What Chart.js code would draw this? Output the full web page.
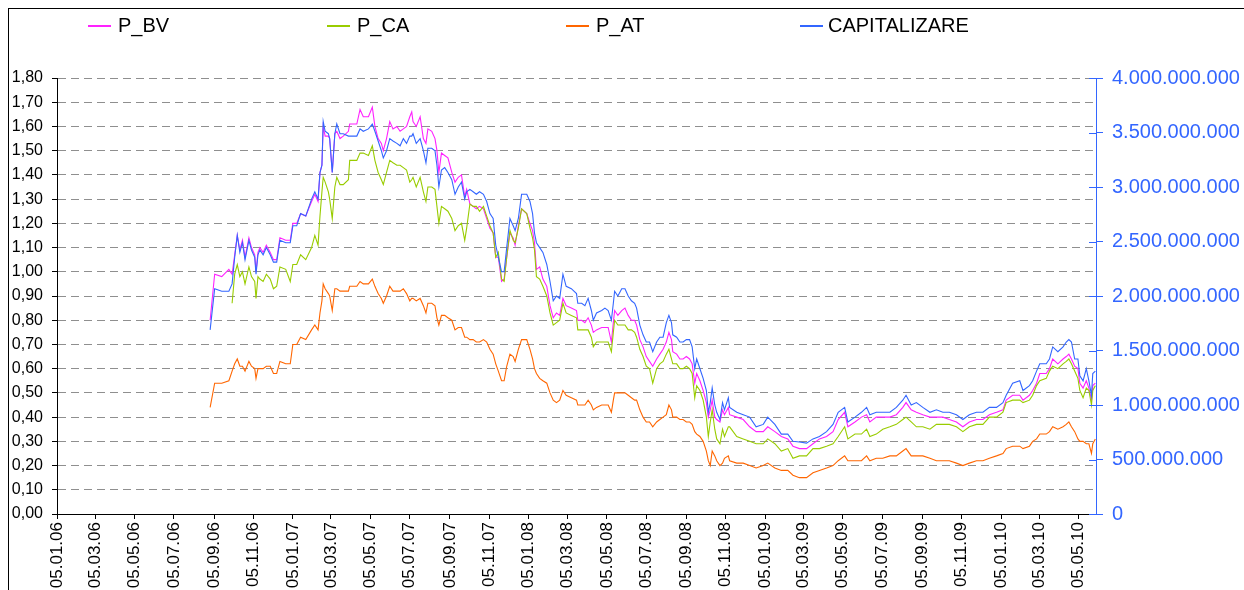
<!DOCTYPE html>
<html>
<head>
<meta charset="utf-8">
<script src="https://cdn.jsdelivr.net/npm/chart.js@4.4.1/dist/chart.umd.min.js"></script>
<style>
  html, body { margin: 0; padding: 0; background: #fff; }
  #wrap { position: relative; width: 1244px; height: 590px; overflow: hidden; }
  #frame { position: absolute; left: 8px; top: 8px; width: 1400px; height: 800px; border: 1px solid #000; }
  #graf { position: absolute; left: 0; top: 0; }
  .leg { position: absolute; top: 15px; font: 20px "Liberation Sans", Arial, sans-serif; line-height: 20px; color: #000; white-space: nowrap; }
  .leg i { position: absolute; top: 10px; width: 23px; height: 2px; }
</style>
</head>
<body>
<div id="wrap">
  <div id="frame"></div>
  <canvas id="graf" width="1244" height="590"></canvas>
  <div id="legenda"></div>
</div>
<script>
// ======= DATE =======
// etichete axa X (zi.luna.an)
const tickLabels = ['05.01.06','05.03.06','05.05.06','05.07.06','05.09.06','05.11.06',
  '05.01.07','05.03.07','05.05.07','05.07.07','05.09.07','05.11.07',
  '05.01.08','05.03.08','05.05.08','05.07.08','05.09.08','05.11.08',
  '05.01.09','05.03.09','05.05.09','05.07.09','05.09.09','05.11.09',
  '05.01.10','05.03.10','05.05.10'];

// zile de la 05.01.06
const days = [
  237,244,255,266,271,275,279,283,287,291,297,301,306,308,311,314,319,324,330,335,
  340,345,354,361,365,371,377,385,394,399,404,407,410,412,415,420,422,426,430,433,
  438,443,451,453,464,
  469,474,482,488,492,497,502,505,510,515,520,526,531,536,541,546,549,551,556,562,
  567,571,574,580,585,588,591,595,600,605,611,616,621,626,631,634,639,644,649,654,
  660,665,670,675,679,683,688,692,696,701,706,709,714,719,727,732,736,739,742,747,752,
  758,763,768,773,778,783,788,796,804,806,812,817,822,827,830,835,843,848,853,858,
  861,863,868,874,879,884,889,894,897,902,907,912,917,922,928,933,938,943,947,951,
  953,959,964,969,974,979,983,987,990,995,1000,1005,1008,1011,1014,1018,1021,1026,1030,1033,1039,
  1041,1052,1062,1072,1082,1093,1100,1111,1121,1131,1139,1149,1160,1170,1180,1191,1201,1209,1219,1224,
  1235,1245,1253,1258,1268,1278,1289,1299,1309,1314,1322,1330,1340,1351,1361,1371,1381,1392,1402,1412,
  1423,1433,1443,1454,1464,1469,1479,1490,1495,1505,1510,1516,1521,1531,1536,1541,1549,1557,1562,1566,
  1570,1575,1580,1583,1588,1593,1597,1601,1603,1607
];

const pBV = [
  0.80,0.99,0.98,1.01,0.99,1.07,1.15,1.09,1.13,1.06,1.14,1.10,1.07,1.00,1.08,1.10,1.08,1.11,1.08,1.05,
  1.05,1.14,1.13,1.13,1.20,1.20,1.24,1.23,1.29,1.32,1.29,1.41,1.44,1.60,1.56,1.56,1.55,1.41,1.57,1.58,
  1.55,1.56,1.58,1.61,1.61,
  1.67,1.64,1.64,1.68,1.60,1.55,1.53,1.50,1.55,1.62,1.59,1.60,1.58,1.59,1.60,1.64,1.66,1.62,1.60,1.64,
  1.55,1.53,1.59,1.58,1.55,1.50,1.41,1.49,1.48,1.47,1.41,1.37,1.39,1.40,1.31,1.34,1.28,1.27,1.26,1.27,
  1.26,1.22,1.18,1.16,1.06,1.06,0.96,0.97,1.06,1.16,1.14,1.11,1.19,1.26,1.24,1.20,1.17,1.12,1.01,1.02,0.97,
  0.94,0.86,0.81,0.83,0.82,0.89,0.86,0.85,0.84,0.80,0.80,0.79,0.81,0.78,0.75,0.76,0.77,0.77,0.77,0.71,
  0.79,0.84,0.82,0.84,0.85,0.82,0.80,0.80,0.78,0.72,0.69,0.65,0.63,0.61,0.64,0.66,0.68,0.71,0.75,0.72,
  0.67,0.66,0.64,0.64,0.65,0.64,0.62,0.54,0.58,0.55,0.51,0.46,0.40,0.43,0.47,0.40,0.39,0.38,0.43,0.41,0.44,
  0.41,0.40,0.39,0.36,0.34,0.34,0.36,0.34,0.32,0.31,0.28,0.27,0.27,0.29,0.31,0.32,0.34,0.39,0.42,0.36,
  0.38,0.40,0.41,0.38,0.40,0.40,0.40,0.41,0.44,0.46,0.43,0.42,0.41,0.40,0.40,0.40,0.39,0.38,0.36,0.38,
  0.39,0.39,0.41,0.42,0.43,0.47,0.49,0.49,0.47,0.49,0.51,0.54,0.58,0.58,0.60,0.64,0.62,0.64,0.65,0.66,
  0.64,0.61,0.60,0.54,0.52,0.55,0.52,0.47,0.53,0.54
];

const pCA = [
  null,null,null,null,0.87,0.99,1.03,0.98,1.00,0.95,1.02,0.98,0.96,0.89,0.98,0.97,0.96,0.99,0.97,0.93,
  0.94,1.02,1.01,0.96,1.03,1.03,1.07,1.05,1.10,1.15,1.11,1.23,1.33,1.39,1.37,1.33,1.30,1.22,1.35,1.39,
  1.36,1.36,1.38,1.46,1.46,
  1.49,1.49,1.48,1.52,1.46,1.41,1.38,1.36,1.41,1.46,1.45,1.44,1.44,1.43,1.42,1.37,1.38,1.39,1.35,1.39,
  1.33,1.29,1.35,1.35,1.34,1.27,1.20,1.27,1.26,1.25,1.22,1.17,1.19,1.20,1.13,1.18,1.28,1.27,1.27,1.25,
  1.27,1.23,1.19,1.16,1.06,1.08,0.97,0.96,1.06,1.17,1.13,1.12,1.18,1.26,1.24,1.18,1.14,1.09,0.98,0.97,0.94,
  0.90,0.83,0.78,0.79,0.80,0.87,0.83,0.82,0.81,0.76,0.76,0.76,0.76,0.73,0.69,0.71,0.71,0.71,0.71,0.67,
  0.75,0.80,0.78,0.78,0.78,0.76,0.76,0.75,0.73,0.68,0.65,0.61,0.60,0.54,0.60,0.62,0.63,0.66,0.68,0.64,
  0.62,0.62,0.60,0.60,0.61,0.60,0.58,0.48,0.53,0.51,0.47,0.40,0.32,0.38,0.43,0.35,0.31,0.29,0.35,0.32,0.36,
  0.36,0.32,0.31,0.30,0.29,0.29,0.31,0.29,0.26,0.27,0.23,0.24,0.24,0.27,0.27,0.28,0.29,0.32,0.36,0.31,
  0.33,0.33,0.35,0.32,0.33,0.35,0.36,0.37,0.39,0.40,0.38,0.36,0.36,0.35,0.37,0.37,0.37,0.36,0.34,0.36,
  0.37,0.37,0.40,0.40,0.42,0.46,0.47,0.47,0.46,0.47,0.49,0.53,0.55,0.56,0.59,0.61,0.60,0.62,0.63,0.64,
  0.62,0.59,0.56,0.51,0.48,0.52,0.51,0.45,0.51,0.53
];

const pAT = [
  0.44,0.54,0.54,0.55,0.59,0.62,0.64,0.61,0.61,0.59,0.63,0.61,0.60,0.56,0.60,0.60,0.60,0.61,0.61,0.58,
  0.58,0.63,0.62,0.62,0.70,0.70,0.73,0.72,0.76,0.78,0.76,0.83,0.88,0.95,0.93,0.91,0.90,0.84,0.93,0.93,
  0.92,0.92,0.92,0.94,0.94,
  0.96,0.95,0.95,0.97,0.94,0.91,0.89,0.87,0.90,0.94,0.92,0.92,0.92,0.93,0.91,0.88,0.89,0.89,0.88,0.89,
  0.86,0.83,0.87,0.87,0.86,0.81,0.78,0.82,0.82,0.81,0.80,0.76,0.77,0.77,0.73,0.73,0.72,0.72,0.71,0.71,
  0.72,0.71,0.68,0.66,0.62,0.59,0.55,0.55,0.61,0.66,0.65,0.63,0.68,0.72,0.72,0.68,0.64,0.60,0.58,0.56,0.55,
  0.54,0.50,0.47,0.46,0.47,0.51,0.49,0.48,0.47,0.45,0.45,0.45,0.47,0.45,0.43,0.44,0.45,0.45,0.45,0.42,
  0.47,0.50,0.50,0.50,0.50,0.49,0.48,0.47,0.47,0.43,0.40,0.38,0.38,0.36,0.38,0.39,0.40,0.41,0.45,0.43,
  0.40,0.40,0.39,0.39,0.38,0.38,0.37,0.34,0.33,0.32,0.30,0.26,0.22,0.20,0.26,0.24,0.22,0.20,0.21,0.23,0.24,
  0.22,0.21,0.21,0.20,0.19,0.20,0.21,0.19,0.18,0.18,0.16,0.15,0.15,0.17,0.18,0.19,0.20,0.22,0.24,0.22,
  0.22,0.22,0.24,0.22,0.23,0.23,0.24,0.24,0.26,0.27,0.24,0.24,0.24,0.23,0.22,0.22,0.22,0.21,0.20,0.21,
  0.22,0.22,0.23,0.24,0.25,0.27,0.28,0.28,0.27,0.28,0.30,0.31,0.33,0.33,0.34,0.36,0.35,0.36,0.37,0.38,
  0.36,0.34,0.31,0.30,0.30,0.29,0.29,0.25,0.29,0.31
];

// capitalizare, milioane lei
const capitalizare = [
  1689,2067,2044,2044,2111,2356,2556,2400,2489,2333,2511,2422,2356,2200,2378,2422,2378,2444,2378,2311,
  2311,2511,2489,2489,2644,2644,2756,2733,2889,2956,2889,3133,3200,3600,3511,3489,3444,3133,3489,3578,
  3489,3489,3467,3467,3467,
  3533,3511,3533,3578,3511,3422,3333,3267,3333,3444,3422,3400,3378,3444,3400,3467,3467,3489,3400,3444,
  3333,3222,3356,3356,3333,3200,3000,3156,3178,3133,3067,2933,3000,3044,2889,2956,2978,2956,2933,2956,
  2933,2867,2756,2711,2467,2356,2222,2222,2444,2711,2644,2600,2711,2933,2933,2867,2756,2578,2489,2444,2400,
  2289,2133,1956,2000,1978,2200,2089,2067,2022,1933,1933,1911,1978,1867,1778,1844,1867,1889,1867,1778,
  1933,2044,2000,2067,2067,2000,1956,1933,1889,1733,1644,1578,1578,1489,1578,1622,1622,1756,1822,1756,
  1644,1622,1578,1578,1600,1600,1533,1333,1422,1333,1244,1133,933,1022,1156,1000,933,867,1022,956,1067,
  978,933,911,889,800,822,889,822,733,733,667,660,650,689,711,756,822,933,978,844,
  889,933,978,911,933,933,933,978,1044,1089,1000,1022,978,933,956,933,933,911,867,911,
  933,933,978,978,1022,1089,1200,1222,1133,1178,1222,1311,1378,1378,1422,1533,1489,1533,1578,1600,
  1578,1422,1422,1267,1222,1333,1222,1089,1289,1311
];

// ======= CULORI =======
const C_BV = '#ff22ff', C_CA = '#99cc00', C_AT = '#ff6600', C_CAP = '#3366ff';

// ======= UTILITARE =======
function zi(label) {
  const [d, m, y] = label.split('.').map(Number);
  return Math.round((Date.UTC(2000 + y, m - 1, d) - Date.UTC(2006, 0, 5)) / 864e5);
}
const tickDays = tickLabels.map(zi);

function puncte(vals, mult = 1) {
  const out = [];
  days.forEach((d, i) => { if (vals[i] != null) out.push({ x: d, y: vals[i] * mult }); });
  return out;
}
const mii = v => String(Math.round(v)).replace(/\B(?=(\d{3})+(?!\d))/g, '.');

// ======= LEGENDA =======
const legenda = document.getElementById('legenda');
[['P_BV', C_BV, 88], ['P_CA', C_CA, 327], ['P_AT', C_AT, 566], ['CAPITALIZARE', C_CAP, 800]].forEach(([t, c, x]) => {
  legenda.innerHTML += `<div class="leg" style="left:${x}px"><i style="left:0;background:${c}"></i><span style="margin-left:${t === 'CAPITALIZARE' ? 28 : 30}px">${t}</span></div>`;
});

// ======= GRAFIC =======
Chart.defaults.font.family = '"Liberation Sans", Arial, sans-serif';
Chart.defaults.color = '#000';

const tickInterior = {
  id: 'tickInterior',
  afterDraw(chart) {
    const s = chart.scales.y2, ctx = chart.ctx;
    ctx.save();
    ctx.strokeStyle = C_CAP;
    ctx.lineWidth = 1;
    s.ticks.forEach(t => {
      const y = Math.round(s.getPixelForValue(t.value)) + 0.5;
      ctx.beginPath(); ctx.moveTo(s.left - 7, y); ctx.lineTo(s.left, y); ctx.stroke();
    });
    ctx.restore();
  }
};

const serie = (label, data, color, axis, order) => ({
  label, data, borderColor: color, backgroundColor: color, borderWidth: 1.1,
  pointRadius: 0, tension: 0, yAxisID: axis, order
});

new Chart(document.getElementById('graf'), {
  type: 'line',
  data: {
    datasets: [
      serie('P_BV', puncte(pBV), C_BV, 'y', 4),
      serie('P_CA', puncte(pCA), C_CA, 'y', 3),
      serie('P_AT', puncte(pAT), C_AT, 'y', 2),
      serie('CAPITALIZARE', puncte(capitalizare, 1e6), C_CAP, 'y2', 1)
    ]
  },
  options: {
    responsive: false,
    animation: false,
    layout: { padding: { top: 78, left: 0, right: 0, bottom: 0 } },
    plugins: { legend: { display: false }, tooltip: { enabled: false } },
    scales: {
      x: {
        type: 'linear', min: 0, max: 1608,
        afterBuildTicks: s => { s.ticks = tickDays.map(v => ({ value: v })); },
        afterFit: s => { s.height = 76; },
        ticks: {
          autoSkip: false, minRotation: 90, maxRotation: 90, padding: 3,
          font: { size: 17 },
          callback: v => tickLabels[tickDays.indexOf(v)] || ''
        },
        grid: { drawOnChartArea: false, drawTicks: true, tickLength: 5, tickColor: '#000' },
        border: { color: '#000', width: 1 }
      },
      y: {
        position: 'left', min: 0, max: 1.8,
        afterFit: s => { s.width = 57; },
        ticks: { stepSize: 0.1, padding: 9, font: { size: 16 }, callback: v => v.toFixed(2).replace('.', ',') },
        grid: { color: '#8f8f8f', lineWidth: 1, tickColor: '#000', tickLength: 5 },
        border: { color: '#000', width: 1, dash: [8, 5] }
      },
      y2: {
        position: 'right', min: 0, max: 4e9,
        afterFit: s => { s.width = 148; },
        ticks: { stepSize: 5e8, padding: 9, color: C_CAP, font: { size: 20 }, callback: v => mii(v) },
        grid: { drawOnChartArea: false, tickColor: C_CAP, tickLength: 7 },
        border: { color: C_CAP, width: 1 }
      }
    }
  },
  plugins: [tickInterior]
});
</script>
</body>
</html>
